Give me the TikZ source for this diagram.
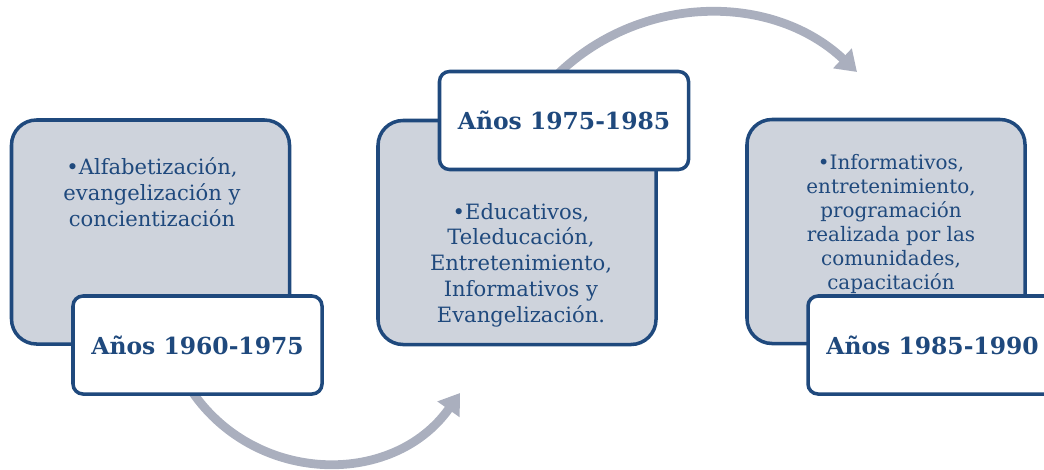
\documentclass[tikz,border=0pt]{standalone}
\usepackage{fontspec}
\setmainfont{DejaVu Serif}
\usetikzlibrary{arrows.meta}
\definecolor{darkblue}{RGB}{31,73,125}
\definecolor{lightgrey}{RGB}{206,211,220}
\definecolor{arrowgrey}{RGB}{170,175,190}

\begin{document}
\begin{tikzpicture}[x=0.03cm, y=-0.03cm,
  period/.style={draw=darkblue, line width=3pt, fill=lightgrey, rounded corners=0.75cm, minimum width=8.34cm, minimum height=6.72cm},
  years/.style={draw=darkblue, line width=3pt, fill=white, rounded corners=0.3cm, minimum width=7.47cm, minimum height=2.94cm, text=darkblue, font=\fontsize{20}{24}\selectfont\bfseries},
  content/.style={text=darkblue, align=center, font=\fontsize{18}{22}\selectfont},
  flow/.style={-{Triangle[length=0.6cm, width=0.78cm]}, line width=7.5pt, color=arrowgrey}]

  \useasboundingbox (0,0) rectangle (1044,469);
  \clip (0,0) rectangle (1044,469);

  % Arrows (behind the boxes)
  \coordinate (S1) at (189,387);
  \coordinate (E1) at (460,393);
  \coordinate (S2) at (550,82);
  \coordinate (E2) at (857,72);
  \draw[flow] (S1) to[bend right=56, looseness=1.1] (E1);
  \draw[flow] (S2) to[bend left=45] (E2);

  % Grey boxes
  \node[period] (P1) at (150.5,232) {};
  \node[period] (P2) at (517,232.5) {};
  \node[period] (P3) at (886,231.5) {};

  % Box texts
  \node[content] (T1) at (152,192) {•Alfabetización,\\ evangelización y\\ concientización};
  \node[content] (T2) at (521,265) {•Educativos,\\ Teleducación,\\ Entretenimiento,\\ Informativos y\\ Evangelización.};
  \node[content, font=\fontsize{17}{20.5}\selectfont] (T3) at (891,224) {•Informativos,\\ entretenimiento,\\ programación\\ realizada por las\\ comunidades,\\ capacitación};

  % Year labels
  \node[years] (L1) at (197.5,345) {Años 1960-1975};
  \node[years] (L2) at (564,120.5) {Años 1975-1985};
  \node[years] (L3) at (932.5,345) {Años 1985-1990};

\end{tikzpicture}
\end{document}
